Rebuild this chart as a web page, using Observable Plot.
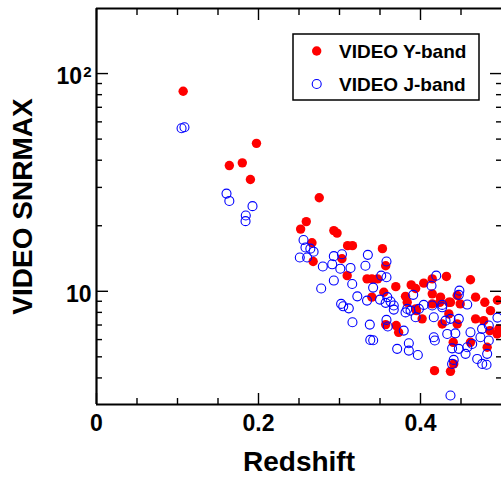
<!DOCTYPE html>
<html><head><meta charset="utf-8">
<script src="https://cdn.jsdelivr.net/npm/d3@7"></script>
<script src="https://cdn.jsdelivr.net/npm/@observablehq/plot@0.6"></script>
<style>
body{margin:0;background:#fff;}
#wrap{position:relative;width:501px;height:485px;overflow:hidden;font-family:"Liberation Sans",Arial,sans-serif;}
#legend{position:absolute;left:292px;top:33px;}
</style></head>
<body>
<div id="wrap"></div>
<script>
// VIDEO Y-band: redshift and SNRMAX
const yZ = [0.107,0.1975,0.164,0.180,0.190,0.275,0.259,0.252,0.266,0.293,0.297,0.310,0.316,0.353,0.2675,0.303,0.3095,0.334,0.340,0.347,0.357,0.3695,0.3547,0.340,0.357,0.370,0.373,0.3885,0.394,0.404,0.4145,0.432,0.4617,0.3815,0.3836,0.4145,0.4247,0.435,0.4453,0.449,0.468,0.4794,0.4864,0.394,0.4145,0.395,0.402,0.4238,0.437,0.435,0.4268,0.4453,0.468,0.478,0.4856,0.4967,0.4947,0.4404,0.4617,0.4823,0.441,0.437,0.4173,0.495];
const ySnr = [82.9,47.8,37.8,38.9,32.6,26.9,20.9,19.3,16.7,19.0,18.5,16.2,16.2,15.7,13.7,14.1,11.8,11.4,11.4,11.4,13.1,10.5,9.9,9.4,7.03,6.96,6.48,10.7,10.3,10.9,11.4,11.7,11.3,9.48,8.9,9.73,9.4,8.9,9.56,8.75,9.4,8.9,8.15,8.3,8.75,8.15,7.47,8.9,8.9,7.87,7.08,7.08,7.47,7.33,6.6,6.72,6.37,5.83,5.83,5.53,4.64,4.29,4.32,9.1];
// VIDEO J-band: redshift and SNRMAX
const jZ = [0.105,0.1086,0.1605,0.164,0.1926,0.1843,0.184,0.2556,0.258,0.264,0.268,0.251,0.260,0.2794,0.293,0.291,0.303,0.301,0.3136,0.335,0.332,0.358,0.3515,0.358,0.293,0.3157,0.2774,0.3415,0.322,0.334,0.350,0.359,0.363,0.357,0.302,0.3046,0.3115,0.367,0.316,0.3374,0.358,0.3596,0.338,0.3416,0.3712,0.4194,0.4136,0.391,0.448,0.4473,0.4577,0.367,0.404,0.4145,0.4268,0.3836,0.398,0.3815,0.3877,0.394,0.4164,0.4268,0.4309,0.437,0.4473,0.3793,0.4164,0.4177,0.3856,0.3856,0.3967,0.433,0.443,0.439,0.4473,0.4556,0.4617,0.4638,0.476,0.4843,0.474,0.4843,0.4823,0.4577,0.47,0.4762,0.4815,0.441,0.439,0.437,0.495];
const jSnr = [56.1,56.7,28.1,26.0,24.6,22.3,21.0,17.2,15.9,15.7,15.2,14.3,14.3,13.0,14.5,13.3,14.8,12.7,12.8,14.7,13.1,13.7,11.8,11.6,11.2,10.8,10.3,10.4,9.48,9.06,9.16,9.4,8.97,8.85,8.75,8.53,8.35,8.24,7.21,7.03,7.39,6.89,5.98,5.96,5.44,11.8,10.6,9.63,10.07,9.63,8.69,8.6,8.66,8.6,8.66,8.3,8.3,8.0,8.15,7.6,7.6,8.44,7.33,7.47,7.47,6.6,6.15,5.94,5.77,5.34,5.1,6.37,6.41,5.47,5.44,5.16,6.48,5.73,6.72,6.96,6.15,5.94,5.16,5.53,4.89,4.64,4.6,4.84,4.64,3.32,7.57];

const xDomain = [0, 0.5];
const yDomain = [3.02, 199];
const xMajor = [0, 0.2, 0.4];
const xMinor = [0.05, 0.1, 0.15, 0.25, 0.3, 0.35, 0.45];
const yMajor = [10, 100];
const yMinor = [4, 5, 6, 7, 8, 9, 20, 30, 40, 50, 60, 70, 80, 90];
const xTickLabels = ["0", "0.2", "0.4"];
const yTickBase = ["10", "10"];
const yTickExp = ["", "2"];
const seriesNames = ["VIDEO Y-band", "VIDEO J-band"];
const xLabel = "Redshift";
const yLabel = "VIDEO SNRMAX";

const yband = yZ.map((z, i) => ({z, snr: ySnr[i]}));
const jband = jZ.map((z, i) => ({z, snr: jSnr[i]}));

const font = "Liberation Sans, Arial, sans-serif";
const none = () => "";
const tk = {label: null, tickFormat: none, strokeWidth: 1.4};

const plot = Plot.plot({
  width: 501, height: 485,
  marginLeft: 96, marginTop: 8, marginRight: 0, marginBottom: 81,
  x: {domain: xDomain},
  y: {type: "log", domain: yDomain},
  style: {fontFamily: font, background: "white", color: "black"},
  marks: [
    Plot.dot(yband, {x: "z", y: "snr", r: 4.7, fill: "#ff0000"}),
    Plot.dot(jband, {x: "z", y: "snr", r: 4.5, stroke: "#0000ff", strokeWidth: 1.1, fill: "none"}),
    Plot.axisX({...tk, anchor: "bottom", ticks: xMajor, tickSize: -11}),
    Plot.axisX({...tk, anchor: "bottom", ticks: xMinor, tickSize: -6}),
    Plot.axisX({...tk, anchor: "top", ticks: xMajor, tickSize: -11}),
    Plot.axisX({...tk, anchor: "top", ticks: xMinor, tickSize: -6}),
    Plot.axisY({...tk, anchor: "left", ticks: yMajor, tickSize: -12}),
    Plot.axisY({...tk, anchor: "left", ticks: yMinor, tickSize: -6}),
    Plot.axisY({...tk, anchor: "right", ticks: yMajor, tickSize: -12}),
    Plot.axisY({...tk, anchor: "right", ticks: yMinor, tickSize: -6}),
    Plot.axisX({anchor: "bottom", label: null, ticks: xMajor, tickSize: 0, tickPadding: 10,
      tickFormat: d => xTickLabels[xMajor.indexOf(d)], fontSize: 23, fontWeight: "bold"}),
    Plot.axisY({anchor: "left", label: null, ticks: yMajor, tickSize: 0, tickPadding: 5, dy: 3,
      tickFormat: d => yTickBase[yMajor.indexOf(d)] + (yTickExp[yMajor.indexOf(d)] ? "^" + yTickExp[yMajor.indexOf(d)] : ""),
      fontSize: 23, fontWeight: "bold"}),
    Plot.ruleX([xDomain[0]], {strokeWidth: 2.2}),
    Plot.ruleY(yDomain, {strokeWidth: 2.2}),
    Plot.text([xLabel], {frameAnchor: "bottom", text: d => d, dy: 66, fontSize: 28, fontWeight: "bold"}),
    Plot.text([yLabel], {frameAnchor: "left", textAnchor: "middle", text: d => d, dx: -73, rotate: -90, fontSize: 28, fontWeight: "bold"})
  ]
});

// render exponents as superscript tspans
d3.select(plot).selectAll("text").each(function() {
  const t = this.textContent;
  const k = t.indexOf("^");
  if (k > 0) {
    const el = d3.select(this);
    el.text(t.slice(0, k));
    el.append("tspan").attr("font-size", 15).attr("dy", "-0.45em").attr("dx", "1").text(t.slice(k + 1));
  }
});

const wrap = document.getElementById("wrap");
wrap.append(plot);

// legend inside the plot area
const ns = "http://www.w3.org/2000/svg";
const lg = document.createElementNS(ns, "svg");
lg.setAttribute("id", "legend");
lg.setAttribute("width", 190);
lg.setAttribute("height", 70);
lg.innerHTML = `
  <rect x="1" y="1" width="186" height="66" fill="white" stroke="black" stroke-width="1.5"/>
  <circle cx="24.7" cy="18" r="4.7" fill="#ff0000"/>
  <circle cx="24.7" cy="51" r="4.5" fill="none" stroke="#0000ff" stroke-width="1.1"/>
  <text x="47" y="25" font-family="${font}" font-size="19" font-weight="bold">${seriesNames[0]}</text>
  <text x="47" y="58" font-family="${font}" font-size="19" font-weight="bold">${seriesNames[1]}</text>`;
wrap.append(lg);
</script>
</body></html>
